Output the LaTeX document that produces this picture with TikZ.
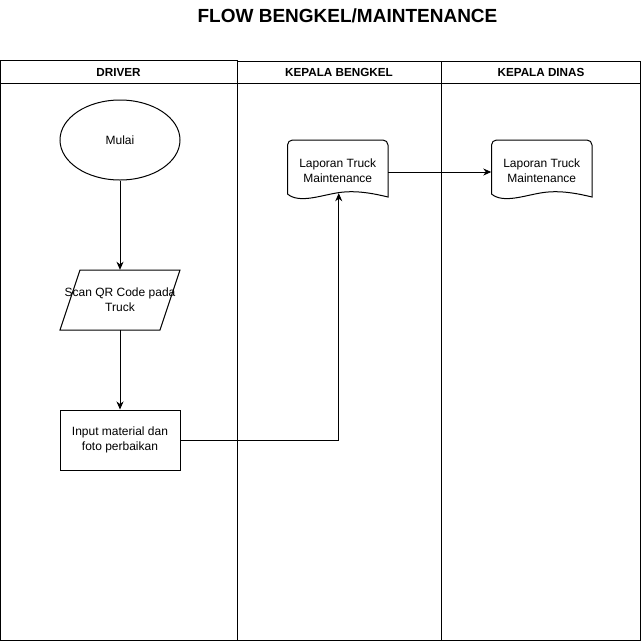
\documentclass[tikz,border=0pt]{standalone}
\usepackage{fontspec}
\setmainfont{Liberation Sans}
\usetikzlibrary{shapes.geometric,arrows.meta}
\tikzset{
  line/.style={line width=1pt, draw=black},
  arr/.style={line width=1pt, -{Stealth[length=8pt,width=7pt,inset=2.5pt]}},
  body/.style={font=\fontsize{12}{15}\selectfont, align=center, inner sep=0pt},
  hdr/.style={font=\fontsize{11.7}{14}\selectfont\bfseries, inner sep=0pt},
  frame/.style={draw=none, inner sep=0pt, minimum width=#1},
}
\newcommand{\docpath}{%
  (0,54) -- (0,5) arc[start angle=180,end angle=270,radius=5]
  -- (95.5,0) arc[start angle=270,end angle=360,radius=5]
  -- (100.5,57) .. controls (88,54) and (70,50) .. (52,52.5)
  .. controls (34,55) and (12,64) .. (0,54) -- cycle}
\begin{document}
\begin{tikzpicture}[x=1pt,y=-1pt]
\useasboundingbox (0,0) rectangle (642,641);
% title
\node[font=\fontsize{19}{22}\selectfont\bfseries, inner sep=0pt] (title) at (347.5,15.5) {FLOW BENGKEL/MAINTENANCE};
% swimlanes
\draw[line] (0.5,60.5) rectangle (237.5,640.5);
\draw[line] (0.5,83.5) -- (237.5,83.5);
\draw[line] (237.5,61.5) -- (640.5,61.5) -- (640.5,640.5) -- (237.5,640.5);
\draw[line] (441,61.5) -- (441,640.5);
\draw[line] (237.5,83.5) -- (640.5,83.5);
\node[hdr] (h1) at (118.5,72) {DRIVER};
\node[hdr] (h2) at (339,72.5) {KEPALA BENGKEL};
\node[hdr] (h3) at (541,72.5) {KEPALA DINAS};
% nodes
\node[ellipse, line, minimum width=120pt, minimum height=80pt, body] (mulai) at (120,140) {Mulai};
\draw[line] (80,270) -- (180,270) -- (160,330) -- (60,330) -- cycle;
\node[draw=none, minimum width=120pt, minimum height=60pt, inner sep=0pt] (scan) at (120,300) {};
\node[body] (scantext) at (120,300) {Scan QR Code pada\\Truck};
\node[rectangle, line, minimum width=120pt, minimum height=60pt, body] (input) at (120,440) {Input material dan\\foto perbaikan};
% documents
\draw[line, shift={(287.5,140)}] \docpath;
\node[draw=none, minimum width=100.5pt, minimum height=60pt, inner sep=0pt] (doc1) at (337.75,170) {};
\node[body] (doc1text) at (337.75,171) {Laporan Truck\\Maintenance};
\draw[line, shift={(491.5,140)}] \docpath;
\node[draw=none, minimum width=100.5pt, minimum height=60pt, inner sep=0pt] (doc2) at (541.75,170) {};
\node[body] (doc2text) at (541.75,171) {Laporan Truck\\Maintenance};
% connectors
\draw[arr] (mulai.south) -- (scan.north);
\draw[arr] (scan.south) -- (input.north);
\draw[arr] (input.east) -| ([xshift=1pt,yshift=7pt]doc1.south);
\draw[arr] ([yshift=-2pt]doc1.east) -- ([yshift=-2pt]doc2.west);
\end{tikzpicture}
\end{document}
